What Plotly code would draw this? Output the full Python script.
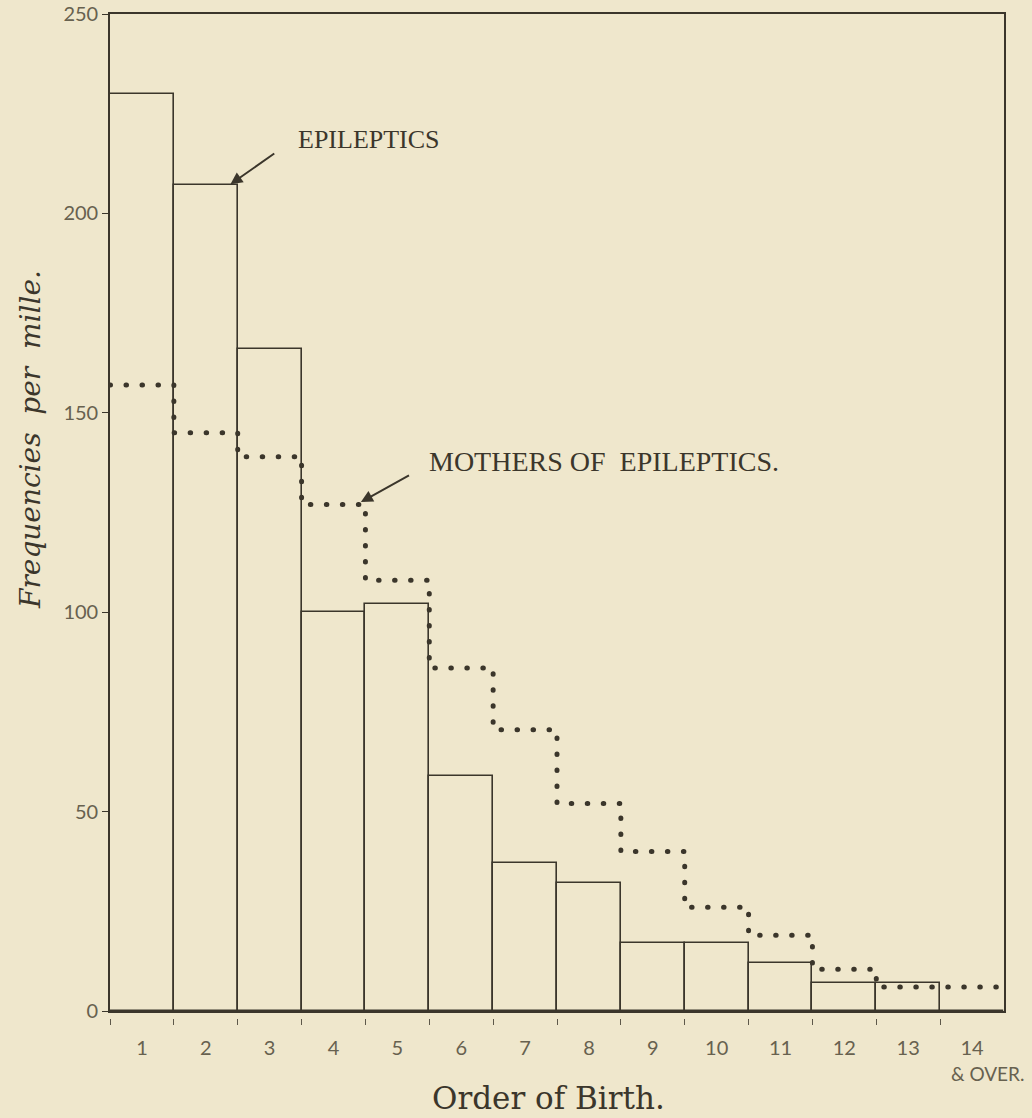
import plotly.graph_objects as go

# ---- data ----
orders = list(range(1, 15))
order_labels = ["1", "2", "3", "4", "5", "6", "7", "8", "9", "10", "11", "12", "13", "14"]
epileptics = [230, 207, 166, 100, 102, 59, 37, 32, 17, 17, 12, 7, 7, 0]
mothers = [157, 145, 139, 127, 108, 86, 70.5, 52, 40, 26, 19, 10.5, 6, 6]
y_ticks = [0, 50, 100, 150, 200, 250]

BG = "#EFE7CC"
INK = "#3b362b"
GREY = "#5e584a"

# step edges derived from the categories
edges = [o - 0.5 for o in orders] + [orders[-1] + 0.5]
mothers_step = mothers + [mothers[-1]]

fig = go.Figure()

fig.add_trace(go.Bar(
    x=orders, y=epileptics, width=1,
    marker=dict(color="rgba(0,0,0,0)", line=dict(color=INK, width=1.6)),
    showlegend=False, hoverinfo="skip",
))

fig.add_trace(go.Scatter(
    x=edges, y=mothers_step, mode="lines",
    line=dict(shape="hv", color=INK, width=5, dash="0.5px,15.5px"),
    showlegend=False, hoverinfo="skip",
))

# helper trace so the detached boundary-tick axis is drawn
fig.add_trace(go.Scatter(
    x=[orders[0]], y=[0], xaxis="x2", yaxis="y", mode="markers",
    marker=dict(opacity=0), showlegend=False, hoverinfo="skip",
))

W, H = 1032, 1118
ML, MR, MT, MB = 110, 28, 14, 80
plot_h = H - MT - MB
plot_w = W - ML - MR
base_px = 1011
y_dom_low = (H - MB - base_px) / plot_h
tick_pos = (H - MB - 1018) / plot_h

tick_font = dict(family="Lato, Open Sans, sans-serif", size=20, color="#67614f")

fig.update_layout(
    width=W, height=H,
    margin=dict(l=ML, r=MR, t=MT, b=MB, autoexpand=False),
    paper_bgcolor=BG, plot_bgcolor=BG,
    bargap=0,
    xaxis=dict(
        range=[0.5, 14.5], tickvals=orders, ticktext=order_labels,
        ticks="outside", ticklen=18, tickcolor="rgba(0,0,0,0)",
        showline=True, linecolor=INK, linewidth=1.6, mirror=True,
        showgrid=False, zeroline=False, tickfont=tick_font, automargin=False,
    ),
    xaxis2=dict(
        overlaying="x", anchor="free", position=tick_pos,
        range=[0.5, 14.5], tickvals=[o - 0.5 for o in orders],
        ticks="outside", ticklen=6, tickwidth=1.2, tickcolor=GREY,
        showticklabels=False, showline=False, showgrid=False, zeroline=False,
        automargin=False,
    ),
    yaxis=dict(
        range=[0, 250], domain=[y_dom_low, 1], tickvals=y_ticks,
        ticks="outside", ticklen=6, tickcolor=INK, tickwidth=1.4,
        showline=True, linecolor=INK, linewidth=1.6, mirror=True,
        showgrid=False, zeroline=False, tickfont=tick_font, automargin=False,
    ),
)

serif = "Liberation Serif, DejaVu Serif, serif"
annotations = [
    dict(text="Order of Birth.", xref="paper", yref="paper",
         x=(548 - ML) / plot_w, y=(H - MB - 1098) / plot_h,
         xanchor="center", yanchor="middle", showarrow=False,
         font=dict(family="DejaVu Serif, serif", size=31, color=INK)),
    dict(text="<i>Frequencies&nbsp;&nbsp;per&nbsp;&nbsp;mille.</i>", xref="paper", yref="paper",
         x=(30 - ML) / plot_w, y=(H - MB - 440) / plot_h,
         xanchor="center", yanchor="middle", textangle=-90, showarrow=False,
         font=dict(family="DejaVu Serif, serif", size=28, color=INK)),
    dict(text="&amp; OVER.", xref="x", yref="paper", x=14, xshift=15,
         y=(H - MB - 1073) / plot_h, xanchor="center", yanchor="middle",
         showarrow=False, font=dict(family="Lato, sans-serif", size=19, color="#67614f")),
    dict(text="EPILEPTICS", xref="paper", yref="paper",
         x=(296 - ML) / plot_w, y=(H - MB - 139) / plot_h,
         xanchor="left", yanchor="middle", showarrow=False,
         font=dict(family=serif, size=26, color=INK)),
    dict(text="MOTHERS OF&nbsp;&nbsp;EPILEPTICS.", xref="paper", yref="paper",
         x=(427 - ML) / plot_w, y=(H - MB - 461) / plot_h,
         xanchor="left", yanchor="middle", showarrow=False,
         font=dict(family=serif, size=28, color=INK)),
    dict(text="", xref="x", yref="y", x=2.36, y=epileptics[1],
         ax=47, ay=-33, showarrow=True, arrowhead=2, arrowsize=1.2,
         arrowwidth=2, arrowcolor=INK, standoff=2),
    dict(text="", xref="x", yref="y", x=4.36, y=mothers[3],
         ax=54, ay=-30, showarrow=True, arrowhead=2, arrowsize=1.2,
         arrowwidth=2, arrowcolor=INK, standoff=5),
]
fig.update_layout(annotations=annotations)

post = (
    "document.body.style.margin='0';"
    "document.body.style.background='" + BG + "';"
    "document.body.style.overflow='hidden';"
    "document.querySelectorAll('.scatterlayer .js-line').forEach(function(p){"
    "p.style.strokeLinecap='round';});"
)
fig.write_html("out.html", post_script=post, config={"displayModeBar": False})
